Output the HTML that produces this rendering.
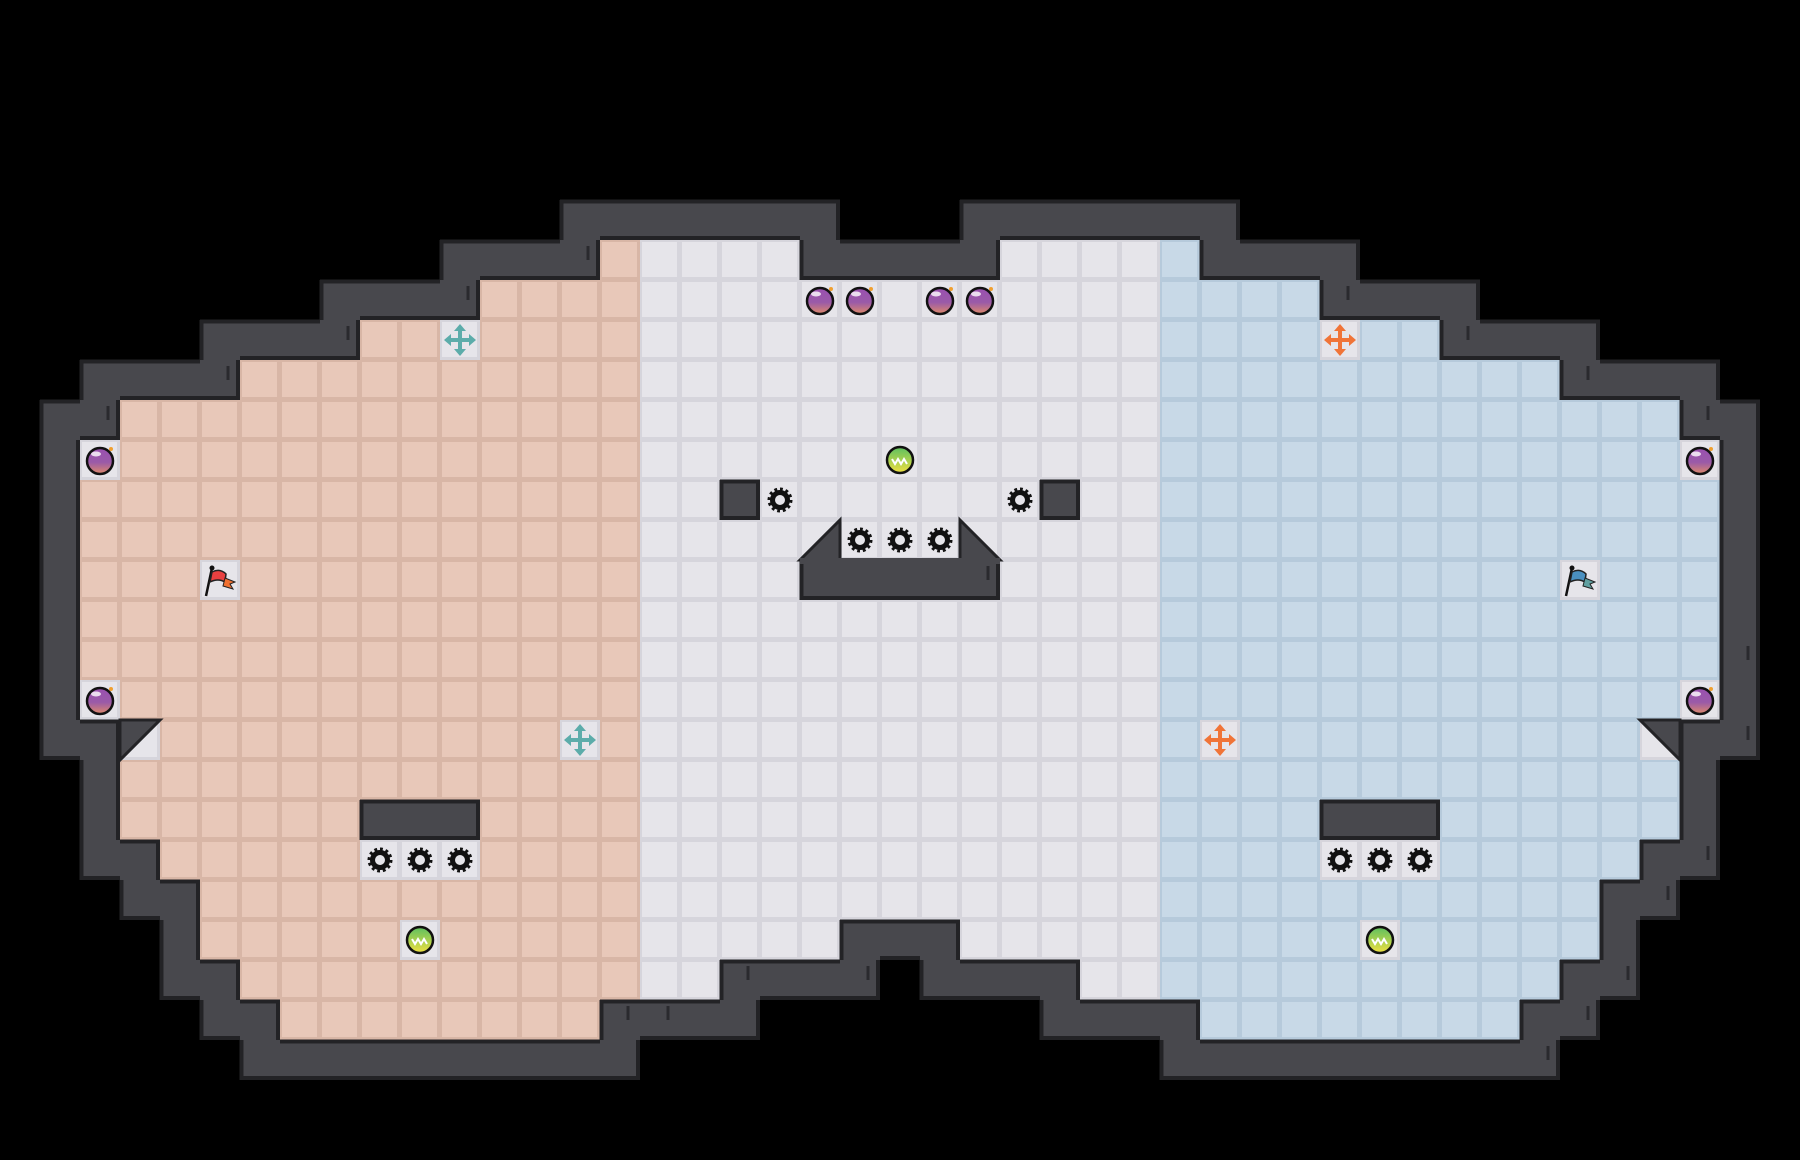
<!DOCTYPE html>
<html><head><meta charset="utf-8">
<style>html,body{margin:0;padding:0;background:#000;width:1800px;height:1160px;overflow:hidden}svg{display:block}</style>
</head><body>
<svg id="s" width="1800" height="1160" xmlns="http://www.w3.org/2000/svg">
<defs>
<linearGradient id="bomb" x1="0" y1="0" x2="0" y2="1"><stop offset="0" stop-color="#9a50b0"/><stop offset="0.55" stop-color="#9a5aa8"/><stop offset="1" stop-color="#e08a6a"/></linearGradient>
<linearGradient id="ball" x1="0" y1="0" x2="0" y2="1"><stop offset="0" stop-color="#5cc060"/><stop offset="1" stop-color="#f0e040"/></linearGradient>
</defs>
</svg>
<script>
(function(){
var T=40,svg=document.getElementById('s'),NS='http://www.w3.org/2000/svg';
function el(n,a,p){var e=document.createElementNS(NS,n);for(var k in a)e.setAttribute(k,a[k]);(p||svg).appendChild(e);return e;}
var rows={6:[[15,19],[25,29]],7:[[12,32]],8:[[9,35]],9:[[6,38]],10:[[3,41]],18:[[3,41]],19:[[3,41]],20:[[3,41]],21:[[4,40]],22:[[5,39]],23:[[5,39]],24:[[6,38]],25:[[7,14],[30,37]]};
for(var r=11;r<=17;r++)rows[r]=[[2,42]];
var F={};
for(var r in rows)rows[r].forEach(function(g){for(var c=g[0];c<=g[1];c++)F[r+','+c]=1;});
var walls=[[12,18],[12,26],[14,20],[14,21],[14,22],[14,23],[14,24],[20,9],[20,10],[20,11],[20,33],[20,34],[20,35],[23,21],[23,22],[23,23]];
for(var c=18;c<=26;c++)walls.push([24,c]);
walls.forEach(function(w){delete F[w[0]+','+w[1]];});
function isF(r,c){return !!F[r+','+c];}
var W={};
for(var r=0;r<30;r++)for(var c=0;c<46;c++){if(isF(r,c))continue;var adj=false;for(var dr=-1;dr<=1;dr++)for(var dc=-1;dc<=1;dc++)if(isF(r+dr,c+dc))adj=true;if(adj)W[r+','+c]=1;}
function isW(r,c){return !!W[r+','+c];}
var special={};
var items=[];
function add(t,c,r){items.push([t,c,r]);special[r+','+c]=1;}
[[20,7],[21,7],[23,7],[24,7],[2,11],[42,11],[2,17],[42,17]].forEach(function(p){add('bomb',p[0],p[1]);});
add('mt',11,8);add('mt',14,18);add('mo',33,8);add('mo',30,18);
[[22,11],[10,23],[34,23]].forEach(function(p){add('ball',p[0],p[1]);});
[[19,12],[25,12],[21,13],[22,13],[23,13],[9,21],[10,21],[11,21],[33,21],[34,21],[35,21]].forEach(function(p){add('gear',p[0],p[1]);});
add('fr',5,14);add('fb',39,14);
var diag={'18,3':1,'18,41':1,'13,20':1,'13,24':1};
var g=el('g',{});
for(var k in F){var p=k.split(','),r=+p[0],c=+p[1];
 var fill,line;
 if(special[k]||diag[k]){fill='#e6e5ea';line='#d6d5dc';}
 else if(c<=15){fill='#e8c8b9';line='#d8b6a6';}
 else if(c<=28){fill='#e6e5ea';line='#d6d5dc';}
 else {fill='#c8d9e7';line='#b6cadb';}
 el('rect',{x:c*T,y:r*T,width:T,height:T,fill:line},g);
 el('rect',{x:c*T+2,y:r*T+2,width:T-5,height:T-5,fill:fill},g);
}
var wg=el('g',{});
for(var k in W){var p=k.split(','),r=+p[0],c=+p[1];el('rect',{x:c*T,y:r*T,width:T,height:T,fill:'#48484d'},wg);}
var ed='';
for(var k in W){var p=k.split(','),r=+p[0],c=+p[1],x=c*T,y=r*T;
 if(!isW(r-1,c))ed+='M'+x+' '+(y+1.5)+'h'+T;
 if(!isW(r+1,c))ed+='M'+x+' '+(y+T-2)+'h'+T;
 if(!isW(r,c-1))ed+='M'+(x+1.5)+' '+y+'v'+T;
 if(!isW(r,c+1))ed+='M'+(x+T-2)+' '+y+'v'+T;
}
el('path',{d:ed,stroke:'#232326',"stroke-width":4,fill:'none'},wg);
function tri(pts){el('polygon',{points:pts,fill:'#48484d',stroke:'#232326','stroke-width':3});}
tri((3*T)+','+(18*T)+' '+(4*T)+','+(18*T)+' '+(3*T)+','+(19*T));
tri((41*T)+','+(18*T)+' '+(42*T)+','+(18*T)+' '+(42*T)+','+(19*T));
tri((21*T)+','+(13*T)+' '+(21*T)+','+(14*T)+' '+(20*T)+','+(14*T));
tri((24*T)+','+(13*T)+' '+(25*T)+','+(14*T)+' '+(24*T)+','+(14*T));
el('rect',{x:20*T,y:14*T-2,width:5*T,height:6,fill:'#48484d'});
var tk='';
[[14,6],[11,7],[8,8],[5,9],[2,10],[24,14],[16,25],[21,24],[18,24],[15,25],[42,10],[39,9],[36,8],[33,7],[43,18],[42,21],[41,22],[40,24],[39,25],[38,26],[43,16]].forEach(function(p){if(isW(p[1],p[0]))tk+='M'+(p[0]*T+28)+' '+(p[1]*T+6)+'v14';});
el('path',{d:tk,stroke:'#2a2a2e','stroke-width':3});
items.forEach(function(it){var t=it[0],cx=it[1]*T+20,cy=it[2]*T+20;
 if(t=='bomb'){el('circle',{cx:cx,cy:cy+1,r:13,fill:'url(#bomb)',stroke:'#111','stroke-width':2.5});el('ellipse',{cx:cx-4,cy:cy-6,rx:5,ry:2.5,fill:'#fff',opacity:0.8});el('circle',{cx:cx+11,cy:cy-11,r:2,fill:'#f0a030'});}
 else if(t=='ball'){el('circle',{cx:cx,cy:cy,r:13,fill:'url(#ball)',stroke:'#111','stroke-width':2.5});el('path',{d:'M'+(cx-8)+' '+(cy-1)+'l3 5 3-5 3 5 3-5 3 5',stroke:'#fff','stroke-width':2,fill:'none'});}
 else if(t=='gear'){el('circle',{cx:cx,cy:cy,r:10,fill:'none',stroke:'#111','stroke-width':5,'stroke-dasharray':'2.6 2.6'});el('circle',{cx:cx,cy:cy,r:7.5,fill:'none',stroke:'#111','stroke-width':5});}
 else if(t=='mt'||t=='mo'){var col=t=='mt'?'#5cacaa':'#f07438';
  el('path',{d:'M'+(cx-12)+' '+cy+'h24M'+cx+' '+(cy-12)+'v24',stroke:col,'stroke-width':4});
  el('path',{d:'M'+cx+' '+(cy-16)+'l-6 7h12zM'+cx+' '+(cy+16)+'l-6 -7h12zM'+(cx-16)+' '+cy+'l7 -6v12zM'+(cx+16)+' '+cy+'l-7 -6v12z',fill:col});}
 else {var col=t=='fr'?'#e84040':'#4a90c0',col2=t=='fr'?'#f07030':'#60a0a0';
  el('path',{d:'M'+(cx-14)+' '+(cy+16)+'L'+(cx-8)+' '+(cy-12),stroke:'#111','stroke-width':2.5});
  el('circle',{cx:cx-8,cy:cy-12,r:2.5,fill:'#111'});
  el('path',{d:'M'+(cx-8)+' '+(cy-8)+'q8 -4 14 2l-1 8q-7 -4 -15 0z',fill:col,stroke:'#222','stroke-width':1.5});
  el('path',{d:'M'+(cx+5)+' '+(cy-2)+'l10 4 -5 2 3 5 -10 -3z',fill:col2,stroke:'#222','stroke-width':1});}
});
})();
</script>
</body></html>
